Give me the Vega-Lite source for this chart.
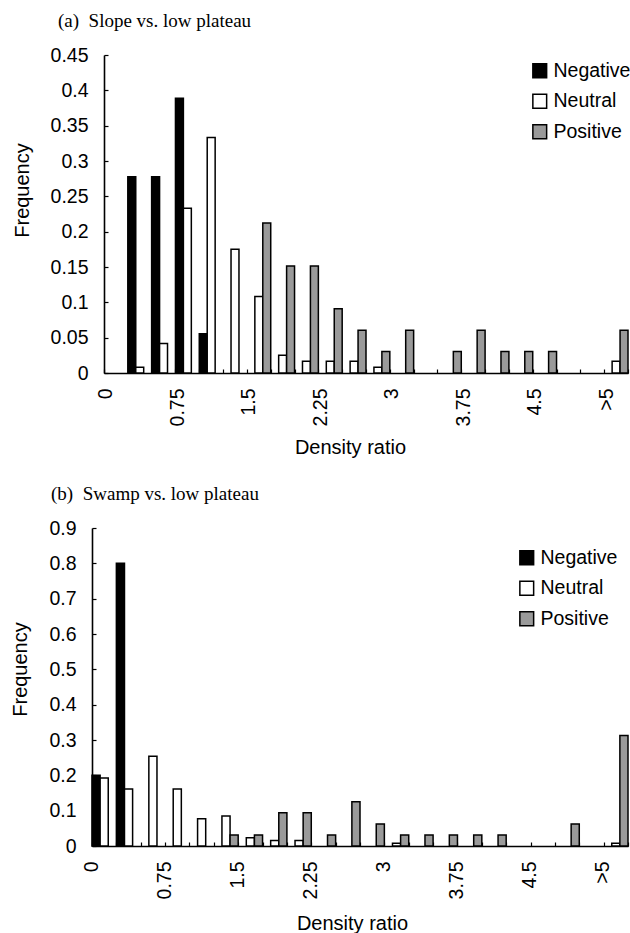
{
  "$schema": "https://vega.github.io/schema/vega-lite/v6.json",
  "padding": {"left": 10, "top": 12, "right": 0, "bottom": 0},
  "background": "white",
  "config": {
    "view": {"stroke": null},
    "font": "Liberation Sans",
    "axis": {
      "labelFont": "Liberation Sans", "labelFontSize": 19.5, "labelColor": "black",
      "titleFont": "Liberation Sans", "titleFontSize": 20, "titleFontWeight": "normal", "titleColor": "black",
      "domainColor": "black", "domainWidth": 1.6, "tickColor": "black", "tickWidth": 1.2, "grid": false
    },
    "title": {"font": "Liberation Serif", "fontSize": 19, "fontWeight": "normal", "anchor": "start", "color": "black"},
    "legend": {
      "labelFont": "Liberation Sans", "labelFontSize": 19.5, "labelColor": "black",
      "symbolType": "square", "symbolSize": 190, "symbolStrokeColor": "black", "symbolStrokeWidth": 1.5,
      "rowPadding": 9.5, "labelOffset": 4, "padding": 0
    }
  },
  "datasets": {
    "a": [
      {"bin": "0.25", "type": "Negative", "freq": 0.2778},
      {"bin": "0.5", "type": "Negative", "freq": 0.2778},
      {"bin": "0.75", "type": "Negative", "freq": 0.3889},
      {"bin": "1", "type": "Negative", "freq": 0.0556},
      {"bin": "0.25", "type": "Neutral", "freq": 0.0083},
      {"bin": "0.5", "type": "Neutral", "freq": 0.0417},
      {"bin": "0.75", "type": "Neutral", "freq": 0.2333},
      {"bin": "1", "type": "Neutral", "freq": 0.3333},
      {"bin": "1.25", "type": "Neutral", "freq": 0.175},
      {"bin": "1.5", "type": "Neutral", "freq": 0.1083},
      {"bin": "1.75", "type": "Neutral", "freq": 0.025},
      {"bin": "2", "type": "Neutral", "freq": 0.0167},
      {"bin": "2.25", "type": "Neutral", "freq": 0.0167},
      {"bin": "2.5", "type": "Neutral", "freq": 0.0167},
      {"bin": "2.75", "type": "Neutral", "freq": 0.0083},
      {"bin": ">5", "type": "Neutral", "freq": 0.0167},
      {"bin": "1.5", "type": "Positive", "freq": 0.2121},
      {"bin": "1.75", "type": "Positive", "freq": 0.1515},
      {"bin": "2", "type": "Positive", "freq": 0.1515},
      {"bin": "2.25", "type": "Positive", "freq": 0.0909},
      {"bin": "2.5", "type": "Positive", "freq": 0.0606},
      {"bin": "2.75", "type": "Positive", "freq": 0.0303},
      {"bin": "3", "type": "Positive", "freq": 0.0606},
      {"bin": "3.5", "type": "Positive", "freq": 0.0303},
      {"bin": "3.75", "type": "Positive", "freq": 0.0606},
      {"bin": "4", "type": "Positive", "freq": 0.0303},
      {"bin": "4.25", "type": "Positive", "freq": 0.0303},
      {"bin": "4.5", "type": "Positive", "freq": 0.0303},
      {"bin": ">5", "type": "Positive", "freq": 0.0606}
    ],
    "b": [
      {"bin": "0", "type": "Negative", "freq": 0.2},
      {"bin": "0.25", "type": "Negative", "freq": 0.8},
      {"bin": "0", "type": "Neutral", "freq": 0.1923},
      {"bin": "0.25", "type": "Neutral", "freq": 0.1615},
      {"bin": "0.5", "type": "Neutral", "freq": 0.2538},
      {"bin": "0.75", "type": "Neutral", "freq": 0.1615},
      {"bin": "1", "type": "Neutral", "freq": 0.0769},
      {"bin": "1.25", "type": "Neutral", "freq": 0.0846},
      {"bin": "1.5", "type": "Neutral", "freq": 0.0231},
      {"bin": "1.75", "type": "Neutral", "freq": 0.0154},
      {"bin": "2", "type": "Neutral", "freq": 0.0154},
      {"bin": "3", "type": "Neutral", "freq": 0.0077},
      {"bin": ">5", "type": "Neutral", "freq": 0.0077},
      {"bin": "1.25", "type": "Positive", "freq": 0.0313},
      {"bin": "1.5", "type": "Positive", "freq": 0.0313},
      {"bin": "1.75", "type": "Positive", "freq": 0.0938},
      {"bin": "2", "type": "Positive", "freq": 0.0938},
      {"bin": "2.25", "type": "Positive", "freq": 0.0313},
      {"bin": "2.5", "type": "Positive", "freq": 0.125},
      {"bin": "2.75", "type": "Positive", "freq": 0.0625},
      {"bin": "3", "type": "Positive", "freq": 0.0313},
      {"bin": "3.25", "type": "Positive", "freq": 0.0313},
      {"bin": "3.5", "type": "Positive", "freq": 0.0313},
      {"bin": "3.75", "type": "Positive", "freq": 0.0313},
      {"bin": "4", "type": "Positive", "freq": 0.0313},
      {"bin": "4.75", "type": "Positive", "freq": 0.0625},
      {"bin": ">5", "type": "Positive", "freq": 0.3125}
    ]
  },
  "spacing": 27,
  "resolve": {"scale": {"x": "independent", "y": "independent", "fill": "independent", "xOffset": "independent"}, "legend": {"fill": "independent"}},
  "vconcat": [
    {
      "title": {"text": "(a)\u00a0 Slope vs. low plateau", "frame": "group", "dx": -34, "offset": 14},
      "width": 536,
      "height": 318,
      "data": {"name": "a"},
      "mark": {"type": "bar", "stroke": "black", "strokeWidth": 1.5},
      "encoding": {
        "x": {
          "field": "bin", "type": "nominal",
          "sort": ["0","0.25","0.5","0.75","1","1.25","1.5","1.75","2","2.25","2.5","2.75","3","3.25","3.5","3.75","4","4.25","4.5","4.75","5",">5"],
          "scale": {"domain": ["0","0.25","0.5","0.75","1","1.25","1.5","1.75","2","2.25","2.5","2.75","3","3.25","3.5","3.75","4","4.25","4.5","4.75","5",">5"], "range": [12, 536], "paddingInner": 0, "paddingOuter": 0},
          "axis": {
            "title": "Density ratio", "labelAngle": -90,
            "labelExpr": "indexof(['0','0.75','1.5','2.25','3','3.75','4.5','>5'], datum.label) >= 0 ? datum.label : ''",
            "tickBand": "extent", "tickSize": -4, "labelPadding": 19, "labelOffset": -10,
            "titlePadding": 12, "titleX": 258
          }
        },
        "xOffset": {"field": "type", "type": "nominal", "scale": {"domain": ["Negative","Neutral","Positive"], "paddingInner": 0, "paddingOuter": 0}},
        "y": {
          "field": "freq", "type": "quantitative",
          "scale": {"domain": [0, 0.45], "nice": false},
          "axis": {
            "title": "Frequency", "values": [0,0.05,0.1,0.15,0.2,0.25,0.3,0.35,0.4,0.45], "format": "~g",
            "offset": -12,
            "tickSize": -4, "labelPadding": 20, "titlePadding": 18, "titleY": 135
          }
        },
        "fill": {
          "field": "type", "type": "nominal",
          "scale": {"domain": ["Negative","Neutral","Positive"], "range": ["black","white","#9a9a9a"]},
          "legend": {
            "title": null, "orient": "none", "legendX": 438, "legendY": 6,
            "symbolStrokeColor": "black",
            "encode": {"symbols": {"update": {"stroke": {"value": "black"}, "strokeWidth": {"value": 1.5}}}}
          }
        }
      }
    },
    {
      "title": {"text": "(b)\u00a0 Swamp vs. low plateau", "frame": "group", "dx": -41, "offset": 14},
      "width": 536,
      "height": 318,
      "data": {"name": "b"},
      "mark": {"type": "bar", "stroke": "black", "strokeWidth": 1.5},
      "encoding": {
        "x": {
          "field": "bin", "type": "nominal",
          "sort": ["0","0.25","0.5","0.75","1","1.25","1.5","1.75","2","2.25","2.5","2.75","3","3.25","3.5","3.75","4","4.25","4.5","4.75","5",">5"],
          "scale": {"domain": ["0","0.25","0.5","0.75","1","1.25","1.5","1.75","2","2.25","2.5","2.75","3","3.25","3.5","3.75","4","4.25","4.5","4.75","5",">5"], "paddingInner": 0, "paddingOuter": 0},
          "axis": {
            "title": "Density ratio", "labelAngle": -90,
            "labelExpr": "indexof(['0','0.75','1.5','2.25','3','3.75','4.5','>5'], datum.label) >= 0 ? datum.label : ''",
            "tickBand": "extent", "tickSize": -4, "labelPadding": 19, "labelOffset": -13,
            "titlePadding": 15, "titleX": 260
          }
        },
        "xOffset": {"field": "type", "type": "nominal", "scale": {"domain": ["Negative","Neutral","Positive"], "paddingInner": 0, "paddingOuter": 0}},
        "y": {
          "field": "freq", "type": "quantitative",
          "scale": {"domain": [0, 0.9], "nice": false},
          "axis": {
            "title": "Frequency", "values": [0,0.1,0.2,0.3,0.4,0.5,0.6,0.7,0.8,0.9], "format": "~g",
            "tickSize": -4, "labelPadding": 20, "titlePadding": 18, "titleY": 141
          }
        },
        "fill": {
          "field": "type", "type": "nominal",
          "scale": {"domain": ["Negative","Neutral","Positive"], "range": ["black","white","#9a9a9a"]},
          "legend": {
            "title": null, "orient": "none", "legendX": 425, "legendY": 20,
            "symbolStrokeColor": "black",
            "encode": {"symbols": {"update": {"stroke": {"value": "black"}, "strokeWidth": {"value": 1.5}}}}
          }
        }
      }
    }
  ]
}
